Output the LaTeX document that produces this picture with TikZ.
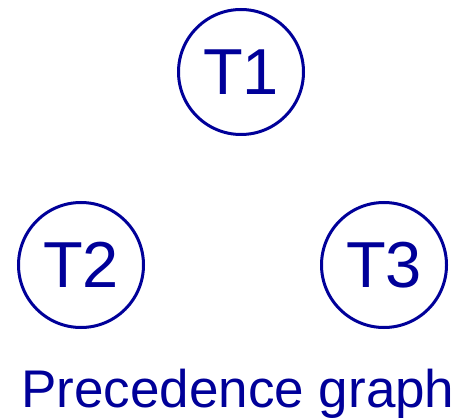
\documentclass[tikz,border=0pt]{standalone}
\usepackage{fontspec}
\setmainfont{Liberation Sans}
\usepackage{xcolor}
\usepackage{tikz}
\definecolor{txn}{HTML}{000099}
\tikzset{
  task/.style={circle,draw=txn,text=txn,line width=3pt,minimum size=125pt,
    inner sep=0pt,font=\fontsize{65}{70}\selectfont},
  caption/.style={text=txn,font=\fontsize{53}{58}\selectfont,anchor=base,inner sep=0pt}
}

\begin{document}
\begin{tikzpicture}[x=1pt,y=1pt]
\useasboundingbox (0,0) rectangle (457,418);
\node[task] (t1) at (241,346) {T1};
\node[task] (t2) at (81,153) {T2};
\node[task] (t3) at (384,153) {T3};
\node[caption] (cap) at (238,11) {Precedence graph};
\end{tikzpicture}
\end{document}
